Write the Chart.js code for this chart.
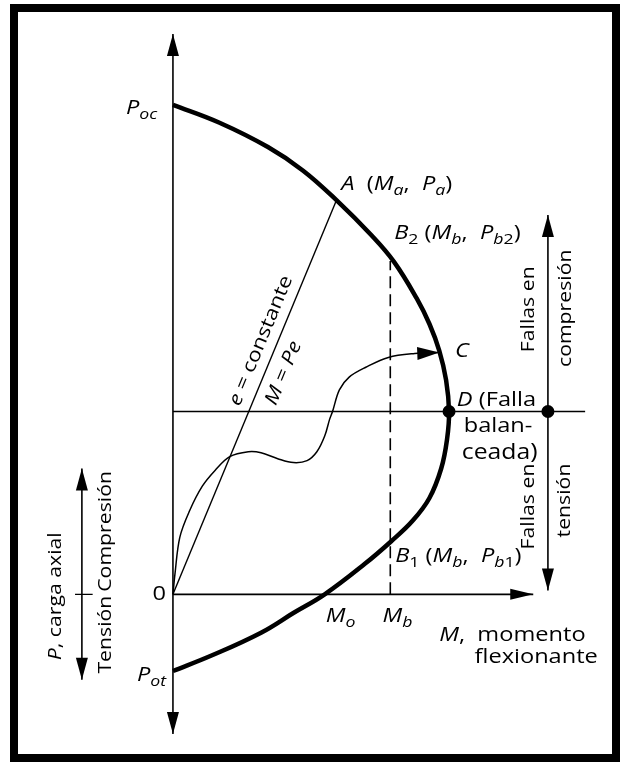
<!DOCTYPE html>
<html>
<head>
<meta charset="utf-8">
<script src="https://cdn.jsdelivr.net/npm/chart.js@4"></script>
<style>
html,body{margin:0;padding:0;background:#fff;}
canvas{display:block;}
</style>
</head>
<body>
<canvas id="c" width="621" height="765"></canvas>
<script>
// ---------- DATA (M = moment, P = axial load, abstract units) ----------
// Interaction diagram (P_oc -> A -> B2 -> C -> D -> B1 -> M_o -> P_ot)
const interactionM = [0, 4.7, 9.7, 13.3, 16.7, 20.3, 22.6, 24.9, 26.2, 27.2, 27.9, 28.2, 28.0, 27.4, 26.2, 24.5, 22.3, 19.6, 15.5, 12.3, 9.0, 4.0, 0];
const interactionP = [49.8, 48.0, 45.5, 43.1, 40.1, 36.5, 33.8, 30.1, 27.5, 24.8, 21.8, 18.6, 15.8, 12.8, 9.8, 7.5, 5.4, 3.1, 0, -1.9, -3.9, -6.2, -7.8];
// Loading path from origin to C
const loadPathM = [0, 0.2, 0.7, 1.7, 3.0, 4.3, 5.8, 7.7, 9.0, 10.7, 12.3, 13.7, 14.7, 15.5, 16.0, 16.3, 17.0, 18.0, 19.7, 22.0, 24.7, 27.2];
const loadPathP = [0, 2.0, 5.8, 8.5, 11.0, 12.6, 14.0, 14.5, 14.4, 13.8, 13.4, 13.6, 14.5, 16.1, 17.8, 18.6, 20.8, 22.1, 23.1, 24.1, 24.5, 24.6];
// Constant eccentricity line: origin -> A
const eccLineM = [0, 16.7];
const eccLineP = [0, 40.1];
// Key values
const Mb = 22.2;          // moment of B1/B2
const Pb2 = 33.9;         // top of dashed line (B2)
const Dpoint = [28.2, 18.6];   // balanced failure point D (M, P)
const axisPTop = 57.0, axisPBottom = -14.2, axisMRight = 36.8;
const balLineMEnd = 42.1;
const zoneArrowM = 38.3, zoneArrowPTop = 38.6, zoneArrowPBottom = 0.4;
const signArrowM = -9.3, signArrowPTop = 12.8, signArrowPBottom = -8.7;
const signTickM = [-10.0, -8.2];
// Tick / point labels
const tickLabelsP = ['P_oc', '0', 'P_ot'];
const tickLabelsM = ['M_o', 'M_b'];

// ---------- build datasets ----------
const zip = (xs, ys) => xs.map((x, i) => ({x: x, y: ys[i]}));
const line = (data, w, extra) => Object.assign({
  data: data, showLine: true, borderColor: '#000', backgroundColor: '#000',
  borderWidth: w, pointRadius: 0, tension: 0, fill: false
}, extra || {});

const datasets = [
  line([{x:0,y:axisPBottom},{x:0,y:axisPTop}], 1.6),
  line([{x:0,y:0},{x:axisMRight,y:0}], 1.6),
  line([{x:0,y:Dpoint[1]},{x:balLineMEnd,y:Dpoint[1]}], 1.5),
  line([{x:zoneArrowM,y:zoneArrowPBottom},{x:zoneArrowM,y:zoneArrowPTop}], 1.6),
  line([{x:signArrowM,y:signArrowPBottom},{x:signArrowM,y:signArrowPTop}], 1.6),
  line([{x:signTickM[0],y:0},{x:signTickM[1],y:0}], 1.4),
  line([{x:Mb,y:0},{x:Mb,y:Pb2}], 1.6, {borderDash:[12,6]}),
  line(zip(eccLineM, eccLineP), 1.4),
  line(zip(loadPathM, loadPathP), 1.5, {tension: 0.35}),
  line(zip(interactionM, interactionP), 4.5, {tension: 0.4}),
  {data:[{x:Dpoint[0],y:Dpoint[1]},{x:zoneArrowM,y:Dpoint[1]}], showLine:false,
   pointRadius:6.5, pointBackgroundColor:'#000', pointBorderColor:'#000', pointBorderWidth:0}
];

// ---------- labels / annotations ----------
const FONT = "'Open Sans', sans-serif";
const SX = 1.18;   // horizontal stretch of lettering
const it = (t, s) => ({t: t, f: 'italic ' + (s || 20) + 'px ' + FONT, dy: 0});
const rm = (t, s) => ({t: t, f: (s || 20) + 'px ' + FONT, dy: 0});
const sub = (t, s, italic) => ({t: t, f: (italic === false ? '' : 'italic ') + (s || 15) + 'px ' + FONT, dy: 5});
const subParts = (lbl) => { const [a, b] = lbl.split('_'); return b ? [it(a), sub(b)] : [rm(a)]; };
const R = 18; // rotated text size

const labels = [
  {m:-1.6, p:48.9, align:'right', parts: subParts(tickLabelsP[0])},
  {m:-1.4, p:0, align:'center', base:'middle', parts: subParts(tickLabelsP[1])},
  {m:-0.7, p:-8.8, align:'right', parts: subParts(tickLabelsP[2])},
  {m:15.6, p:-2.8, align:'left', parts: subParts(tickLabelsM[0])},
  {m:21.4, p:-2.8, align:'left', parts: subParts(tickLabelsM[1])},
  {m:17.2, p:41.1, align:'left', parts:[it('A'), rm('  ('), it('M'), sub('a'), rm(',  '), it('P'), sub('a'), rm(')')]},
  {m:22.6, p:36.1, align:'left', parts:[it('B'), sub('2',15,false), rm(' ('), it('M'), sub('b'), rm(',  '), it('P'), sub('b'), sub('2',15,false), rm(')')]},
  {m:28.8, p:24.1, align:'left', parts:[it('C')]},
  {m:29.0, p:19.2, align:'left', parts:[it('D'), rm(' (Falla')]},
  {m:29.7, p:16.5, align:'left', parts:[rm('balan-')]},
  {m:29.5, p:13.8, align:'left', parts:[rm('ceada)', 21)]},
  {m:22.7, p:3.3, align:'left', parts:[it('B'), sub('1',15,false), rm(' ('), it('M'), sub('b'), rm(',  '), it('P'), sub('b'), sub('1',15,false), rm(')')]},
  {m:27.2, p:-4.7, align:'left', parts:[it('M'), rm(',  momento')]},
  {m:30.8, p:-7.0, align:'left', parts:[rm('flexionante')]},
  {m:-12.0, p:-0.2, align:'center', base:'middle', rot:-90, parts:[it('P', R), rm(', carga axial', R)]},
  {m:-6.9, p:6.4, align:'center', base:'middle', rot:-90, parts:[rm('Compresión', R)]},
  {m:-6.9, p:-4.1, align:'center', base:'middle', rot:-90, parts:[rm('Tensión', R)]},
  {m:36.4, p:29.0, align:'center', base:'middle', rot:-90, parts:[rm('Fallas en', R)]},
  {m:40.1, p:29.1, align:'center', base:'middle', rot:-90, parts:[rm('compresión', R)]},
  {m:36.4, p:13.3, align:'right', base:'middle', rot:-90, parts:[rm('Fallas en', R)]},
  {m:40.0, p:13.3, align:'right', base:'middle', rot:-90, parts:[rm('tensión', R)]},
  {m:9.0, p:25.8, align:'center', base:'middle', rot:'ecc', parts:[it('e', R+1), rm(' = constante', R+1)]},
  {m:11.3, p:22.5, align:'center', base:'middle', rot:'ecc', parts:[it('M', R+1), rm(' = ', R+1), it('Pe', R+1)]}
];

function drawRich(ctx, x, y, lbl, angle) {
  ctx.save();
  ctx.translate(x, y);
  if (angle) ctx.rotate(angle);
  ctx.scale(SX, 1);
  ctx.fillStyle = '#000';
  ctx.textBaseline = lbl.base || 'alphabetic';
  ctx.textAlign = 'left';
  let w = 0;
  lbl.parts.forEach(p => { ctx.font = p.f; w += ctx.measureText(p.t).width; });
  let cx = lbl.align === 'center' ? -w / 2 : (lbl.align === 'right' ? -w : 0);
  lbl.parts.forEach(p => { ctx.font = p.f; ctx.fillText(p.t, cx, p.dy); cx += ctx.measureText(p.t).width; });
  ctx.restore();
}

function arrowHead(ctx, tx, ty, fx, fy, len, half) {
  const dx = tx - fx, dy = ty - fy, d = Math.hypot(dx, dy) || 1;
  const ux = dx / d, uy = dy / d;
  const bx = tx - ux * len, by = ty - uy * len;
  ctx.beginPath();
  ctx.moveTo(tx, ty);
  ctx.lineTo(bx - uy * half, by + ux * half);
  ctx.lineTo(bx + uy * half, by - ux * half);
  ctx.closePath();
  ctx.fill();
}

const annotPlugin = {
  id: 'annot',
  beforeDraw(chart) {
    const ctx = chart.ctx;
    ctx.save();
    ctx.fillStyle = '#fff';
    ctx.fillRect(0, 0, chart.width, chart.height);
    ctx.restore();
  },
  afterDatasetsDraw(chart) {
    const ctx = chart.ctx, xs = chart.scales.x, ys = chart.scales.y;
    const X = v => xs.getPixelForValue(v), Y = v => ys.getPixelForValue(v);
    ctx.save();
    ctx.fillStyle = '#000';
    // axis arrows
    arrowHead(ctx, X(0), Y(axisPTop), X(0), Y(0), 22, 6);
    arrowHead(ctx, X(0), Y(axisPBottom), X(0), Y(0), 22, 6);
    arrowHead(ctx, X(axisMRight), Y(0), X(0), Y(0), 23, 5.5);
    arrowHead(ctx, X(zoneArrowM), Y(zoneArrowPTop), X(zoneArrowM), Y(Dpoint[1]), 22, 6);
    arrowHead(ctx, X(zoneArrowM), Y(zoneArrowPBottom), X(zoneArrowM), Y(Dpoint[1]), 22, 6);
    arrowHead(ctx, X(signArrowM), Y(signArrowPTop), X(signArrowM), Y(0), 22, 6);
    arrowHead(ctx, X(signArrowM), Y(signArrowPBottom), X(signArrowM), Y(0), 22, 6);
    const n = loadPathM.length;
    arrowHead(ctx, X(loadPathM[n-1]), Y(loadPathP[n-1]), X(loadPathM[n-2]), Y(loadPathP[n-2]), 22, 6.5);
    // labels
    const eccAngle = Math.atan2(Y(eccLineP[1]) - Y(eccLineP[0]), X(eccLineM[1]) - X(eccLineM[0]));
    labels.forEach(l => {
      const ang = l.rot === 'ecc' ? eccAngle : (l.rot ? l.rot * Math.PI / 180 : 0);
      drawRich(ctx, X(l.m), Y(l.p), l, ang);
    });
    // frame
    ctx.lineWidth = 8;
    ctx.strokeStyle = '#000';
    ctx.strokeRect(14, 8, 602, 750);
    ctx.restore();
  }
};

new Chart(document.getElementById('c'), {
  type: 'scatter',
  data: {datasets: datasets},
  options: {
    responsive: false,
    devicePixelRatio: 1,
    animation: false,
    layout: {padding: 0},
    plugins: {legend: {display: false}, tooltip: {enabled: false}, title: {display: false}},
    scales: {
      x: {type: 'linear', min: -17, max: 45.1, display: false},
      y: {type: 'linear', min: -16.7, max: 59.8, display: false}
    }
  },
  plugins: [annotPlugin]
});
</script>
</body>
</html>
